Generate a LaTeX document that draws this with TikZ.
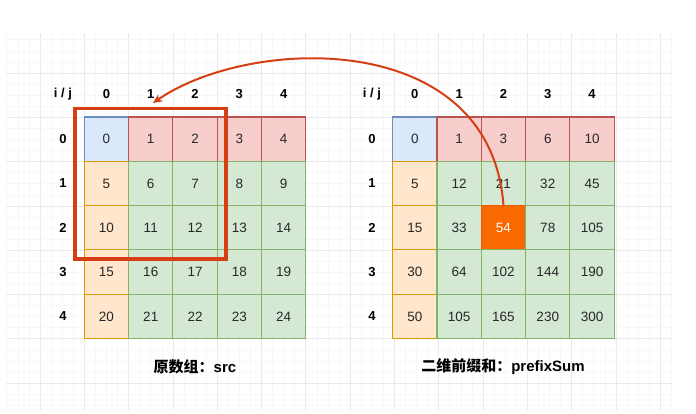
\documentclass[tikz,border=0pt]{standalone}
\usepackage{fontspec}
\setmainfont{Liberation Sans}
\newfontfamily\cjk{Noto Sans CJK SC}
\usetikzlibrary{arrows.meta}
\definecolor{blueF}{HTML}{DAE8FC}\definecolor{blueD}{HTML}{6C8EBF}
\definecolor{redF}{HTML}{F8CECC}\definecolor{redD}{HTML}{B85450}
\definecolor{orF}{HTML}{FFE6CC}\definecolor{orD}{HTML}{D79B00}
\definecolor{grF}{HTML}{D5E8D4}\definecolor{grD}{HTML}{82B366}
\definecolor{hotF}{HTML}{FA6800}\definecolor{hotD}{HTML}{E86000}
\definecolor{selC}{RGB}{214,62,20}
\definecolor{txt}{RGB}{40,40,40}
\definecolor{gridMinor}{RGB}{247,247,247}
\definecolor{gridMajor}{RGB}{234,234,234}
\tikzset{
  cell/.style={draw, line width=1.1pt, minimum width=44.3pt, minimum height=44.3pt,
    inner sep=0pt, font=\fontsize{13.5}{16}\selectfont, text=txt},
  cb/.style={cell, fill=blueF, draw=blueD},
  cr/.style={cell, fill=redF, draw=redD},
  co/.style={cell, fill=orF, draw=orD},
  cg/.style={cell, fill=grF, draw=grD},
  ch/.style={cell, fill=hotF, draw=hotD, text=white},
  kind/.style={#1},
  hdr/.style={font=\fontsize{13}{15}\selectfont\bfseries, inner sep=0pt},
  caption/.style={font=\fontsize{15}{17}\selectfont\bfseries, inner sep=0pt},
  selbox/.style={draw=selC, line width=3.6pt, inner sep=0pt,
    minimum width=151.3pt, minimum height=150.5pt},
  arrowline/.style={draw=selC, line width=2pt, -{Stealth[length=9.5pt,width=8.5pt]}},
}
\begin{document}
\begin{tikzpicture}[x=1pt,y=-1pt]
\useasboundingbox (0,0) rectangle (696,413);
\fill[white] (0,0) rectangle (696,413);
% background grid
\foreach \k in {0,...,60}{
  \pgfmathsetmacro\gx{6.775+11.075*\k}
  \pgfmathtruncatemacro\m{mod(\k+1,4)}
  \ifnum\m=0
    \draw[gridMajor, line width=0.8pt] (\gx,33) -- (\gx,410);
  \else
    \draw[gridMinor, line width=0.6pt] (\gx,33) -- (\gx,410);
  \fi
}
\foreach \k in {0,...,33}{
  \pgfmathsetmacro\gy{39.775+11.075*\k}
  \pgfmathtruncatemacro\m{mod(\k+1,4)}
  \ifnum\m=0
    \draw[gridMajor, line width=0.8pt] (6,\gy) -- (672,\gy);
  \else
    \draw[gridMinor, line width=0.6pt] (6,\gy) -- (672,\gy);
  \fi
}
% left matrix
\node[hdr] (LC) at (63,94) {i / j};
\foreach \j in {0,...,4}{
  \node[hdr] (LH-\j) at ({106.45+44.3*\j},94) {\j};
  \node[hdr] (LR-\j) at (63,{139.15+44.3*\j}) {\j};
}
\foreach \i in {0,...,4}{
  \foreach \j in {0,...,4}{
    \ifnum\i=0
      \ifnum\j=0 \def\sty{cb}\else\def\sty{cr}\fi
    \else
      \ifnum\j=0 \def\sty{co}\else\def\sty{cg}\fi
    \fi
    \pgfmathtruncatemacro\v{\i*5+\j}
    \node[kind/.expanded=\sty] (L-\i-\j) at ({106.45+44.3*\j},{139.15+44.3*\i}) {\v};
  }
}
% right matrix
\node[hdr] (RC) at (372,94) {i / j};
\foreach \j in {0,...,4}{
  \node[hdr] (RH-\j) at ({414.85+44.3*\j},94) {\j};
  \node[hdr] (RR-\j) at (372,{139.15+44.3*\j}) {\j};
}
\foreach \row [count=\i from 0] in {{0,1,3,6,10},{5,12,21,32,45},{15,33,54,78,105},{30,64,102,144,190},{50,105,165,230,300}}{
  \foreach \v [count=\j from 0] in \row {
    \ifnum\i=0
      \ifnum\j=0 \def\sty{cb}\else\def\sty{cr}\fi
    \else
      \ifnum\j=0 \def\sty{co}\else\def\sty{cg}\fi
    \fi
    \ifnum\i=2 \ifnum\j=2 \def\sty{ch}\fi\fi
    \node[kind/.expanded=\sty] (R-\i-\j) at ({414.85+44.3*\j},{139.15+44.3*\i}) {\v};
  }
}
% captions
\node[caption] (capL) at (195,367) {{\cjk 原数组：}src};
\node[caption] (capR) at (503,367) {{\cjk 二维前缀和：}prefixSum};
% selection box and arrow
\node[selbox] (sel) at (150.35,183.75) {};
\coordinate (tip) at (153,103);
\draw[arrowline] (R-2-2.north) .. controls (490,28) and (250,36) .. (tip);
\end{tikzpicture}
\end{document}
